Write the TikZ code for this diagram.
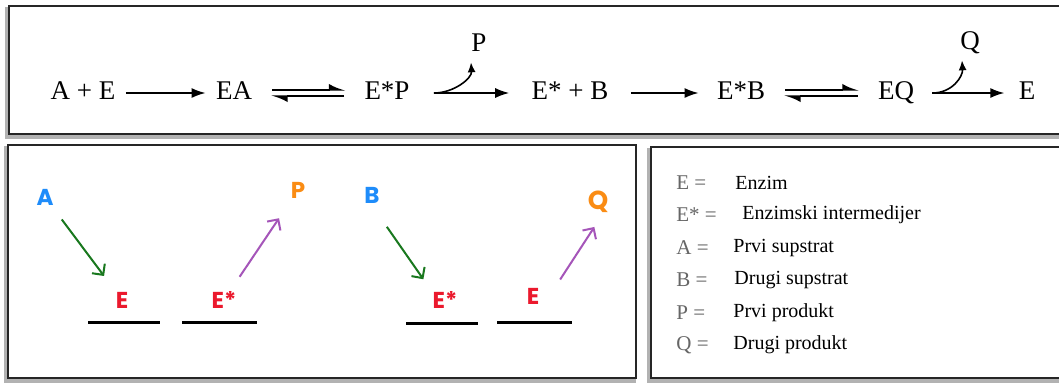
\documentclass[tikz,border=0pt]{standalone}
\usepackage{fontspec}
\setmainfont{Liberation Serif}
\newfontfamily\handfont{Poppins}
\usetikzlibrary{arrows.meta, positioning, calc}
\definecolor{subblue}{RGB}{30,140,250}
\definecolor{prodorange}{RGB}{250,140,20}
\definecolor{enzred}{RGB}{235,25,45}
\definecolor{ingreen}{RGB}{25,120,30}
\definecolor{outpurple}{RGB}{165,85,185}

\begin{document}
\begin{tikzpicture}[
    x=0.5pt, y=-0.5pt,
    panel/.style={draw=black!85, line width=1.1pt, fill=white},
    shade/.style={draw=black!30, line width=1.6pt},
    sp/.style={font=\fontsize{13.5}{16}\selectfont, inner xsep=0pt, inner ysep=0pt, text height=1.5ex, text depth=0pt},
    flow/.style={-{Latex[length=7pt,width=5pt]}, line width=0.8pt, shorten <=5pt, shorten >=5pt},
    eqm/.style={-{Latex[harpoon,length=7pt,width=6pt]}, line width=0.9pt, shorten <=10pt, shorten >=9pt},
    curl/.style={-{Latex[length=5pt,width=4pt]}, line width=0.8pt},
    hd/.style={font=\handfont\bfseries\fontsize{11.5}{13}\selectfont, inner sep=1pt},
    bar/.style={line width=1.5pt},
    bind/.style={draw=ingreen, line width=1pt, -{Straight Barb[length=4pt,width=8pt]}},
    release/.style={draw=outpurple, line width=1pt, -{Straight Barb[length=4pt,width=8pt]}},
    key/.style={anchor=west, text=black!60, font=\fontsize{10.5}{12}\selectfont, inner sep=0pt},
    desc/.style={anchor=west, font=\fontsize{10}{12}\selectfont, inner sep=0pt},
]
\useasboundingbox (0,0) rectangle (1059,382);

% panels
\draw[shade] (7,9) rectangle (1070,137);
\draw[panel] (9,6) rectangle (1070,134);
\draw[shade] (6,148) rectangle (634,381);
\draw[panel] (8,145) rectangle (636,378);
\draw[shade] (649,150) rectangle (1070,381);
\draw[panel] (651,147) rectangle (1070,378);

% reaction sequence
\node[sp] (ae) at (83,93) {A + E};
\node[sp] (ea) at (234,93) {EA};
\node[sp] (esp) at (387,93) {E*P};
\node[sp] (epb) at (570,93) {E* + B};
\node[sp] (eb) at (741,93) {E*B};
\node[sp] (eq) at (896,93) {EQ};
\node[sp] (e) at (1027,93) {E};
\node[sp] (p) at (479,45) {P};
\node[sp] (q) at (970,43) {Q};

\draw[flow] (ae.east) -- (ea.west);
\draw[eqm] ([yshift=1.6pt]ea.east) -- ([yshift=1.6pt]esp.west);
\draw[eqm] ([yshift=-1.6pt]esp.west) -- ([yshift=-1.6pt]ea.east);
\draw[flow, shorten <=12pt, shorten >=11pt] (esp.east) -- (epb.west);
\draw[curl] ([xshift=12pt]esp.east) .. controls +(20,0) and +(1,16) .. ([xshift=-4pt,yshift=-5pt]p.south);
\draw[flow, shorten <=11pt, shorten >=9pt] (epb.east) -- (eb.west);
\draw[eqm] ([yshift=1.6pt]eb.east) -- ([yshift=1.6pt]eq.west);
\draw[eqm] ([yshift=-1.6pt]eq.west) -- ([yshift=-1.6pt]eb.east);
\draw[flow, shorten <=9pt, shorten >=7pt] (eq.east) -- (e.west);
\draw[curl] ([xshift=9pt]eq.east) .. controls +(20,0) and +(1,16) .. ([xshift=-4pt,yshift=-5pt]q.south);

% binding picture
\node[hd, text=subblue] (a2) at (45,197) {A};
\node[hd, text=enzred] (e1) at (122,300) {E};
\node[hd, text=enzred] (es1) at (224,300) {E*};
\node[hd, text=prodorange] (p2) at (298,190) {P};
\node[hd, text=subblue] (b2) at (372,195) {B};
\node[hd, text=enzred] (es2) at (445,300) {E*};
\node[hd, text=enzred] (e2) at (533,296) {E};
\node[hd, text=prodorange, font=\handfont\bfseries\fontsize{13}{15}\selectfont] (q2) at (598,202) {Q};

\draw[bar] (88,322) -- (160,322);
\draw[bar] (182,322) -- (257,322);
\draw[bar] (406,323) -- (478,323);
\draw[bar] (497,322) -- (572,322);

\draw[bind, shorten <=14pt, shorten >=15pt] (a2.center) -- (e1.center);
\draw[release, shorten <=14pt, shorten >=17pt] (es1.center) -- (p2.center);
\draw[bind, shorten <=13pt, shorten >=6pt] (b2.south) -- (es2.north west);
\draw[release, shorten <=6pt, shorten >=7pt] ([xshift=6pt,yshift=-2pt]e2.north east) -- ([xshift=2pt]q2.south);

% legend
\foreach \k/\t/\dx [count=\i] in {E/Enzim/735, E*/Enzimski intermedijer/742, A/Prvi supstrat/733, B/Drugi supstrat/734, P/Prvi produkt/733, Q/Drugi produkt/733} {
  \node[key] (k\i) at (676,150+32.5*\i) {\k\ =};
  \node[desc] (d\i) at (\dx,150+32.5*\i) {\t};
}
\end{tikzpicture}
\end{document}
